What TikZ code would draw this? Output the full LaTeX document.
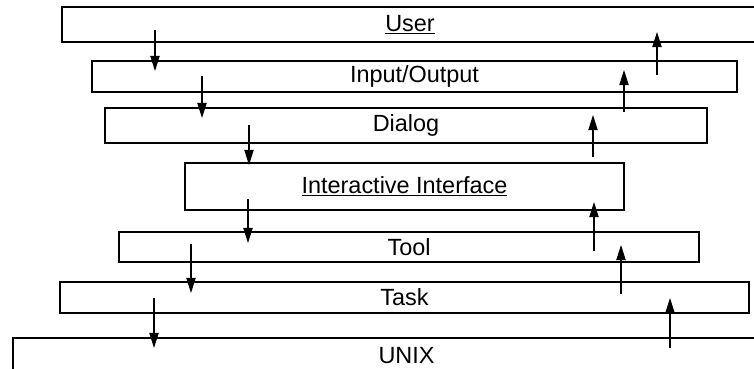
\documentclass[tikz,border=0pt]{standalone}
\usepackage{fontspec}
\setmainfont{Liberation Sans}
\usepackage{tikz}
\usetikzlibrary{arrows.meta}

\begin{document}
\begin{tikzpicture}[x=0.03cm, y=-0.03cm,
    layer/.style={draw, line width=0.9pt, inner sep=0pt, font=\fontsize{20}{22}\selectfont},
    core/.style={layer, line width=2pt},
    flow/.style={line width=0.9pt, -{Triangle[length=13pt, width=8pt]}}]
  \path[use as bounding box] (0,0) rectangle (754,369);
  \clip (0,0) rectangle (754,369);
  % layers, top to bottom
  \node[layer, minimum width=696*0.03cm, minimum height=35*0.03cm] (user) at (410,24.5) {\underline{User}};
  \node[layer, minimum width=645*0.03cm, minimum height=31*0.03cm] (io) at (414.5,76.5) {Input/Output};
  \node[layer, minimum width=602*0.03cm, minimum height=35*0.03cm] (dialog) at (406,125.5) {Dialog};
  \node[core, minimum width=439*0.03cm, minimum height=47*0.03cm] (iface) at (404.5,186.5) {\underline{Interactive Interface}};
  \node[layer, minimum width=580*0.03cm, minimum height=30*0.03cm] (tool) at (409,247) {Tool};
  \node[layer, minimum width=689*0.03cm, minimum height=31*0.03cm] (task) at (404.5,297.5) {Task};
  \node[layer, minimum width=787*0.03cm, minimum height=36*0.03cm] (unix) at (406.5,356) {UNIX};
  % requests going down
  \foreach \n/\x/\ya/\yb in {1/155/30/71, 2/202/76/118, 3/249/125/165,
                              4/248/199/243, 5/191/244/293, 6/154/298/348} {
    \coordinate (down\n a) at (\x,\ya);
    \coordinate (down\n b) at (\x,\yb);
    \draw[flow] (down\n a) -- (down\n b);
  }
  % replies going up
  \foreach \n/\x/\ya/\yb in {1/657/75/32, 2/624/112/70, 3/593/157/115,
                              4/594/251/202, 5/621/294/245, 6/670/348/298} {
    \coordinate (up\n a) at (\x,\ya);
    \coordinate (up\n b) at (\x,\yb);
    \draw[flow] (up\n a) -- (up\n b);
  }
\end{tikzpicture}
\end{document}
